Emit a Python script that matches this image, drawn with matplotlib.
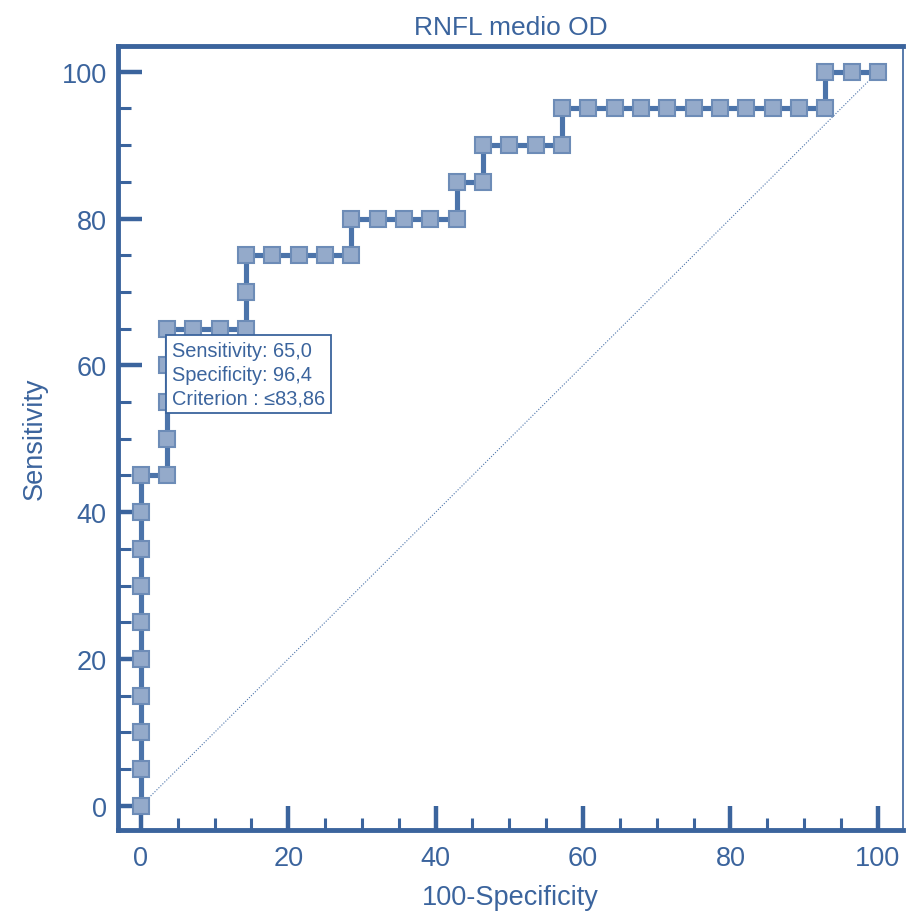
import numpy as np
import matplotlib.pyplot as plt
from matplotlib.ticker import MultipleLocator

# ROC points: 28 negatives, 20 positives
fpr_steps = [0]*10 + [1]*5 + [2, 3] + [4]*3 + [5, 6, 7] + [8]*2 + [9, 10, 11] + [12]*2 \
    + [13]*2 + [14, 15] + [16]*2 + list(range(17, 26)) + [26]*2 + [27, 28]
sens = [0, 5, 10, 15, 20, 25, 30, 35, 40, 45,
        45, 50, 55, 60, 65,
        65, 65,
        65, 70, 75,
        75, 75, 75,
        75, 80,
        80, 80, 80,
        80, 85,
        85, 90,
        90, 90,
        90, 95] + [95]*9 + [95, 100] + [100, 100]
n_neg = 28
x_vals = np.array(fpr_steps) / n_neg * 100
y_vals = np.array(sens)

box_text = "Sensitivity: 65,0\nSpecificity: 96,4\nCriterion : \u226483,86"

blue = "#3b649d"
line_col = "#4c74aa"
face_col = "#94aaca"
edge_col = "#6d8cb7"

plt.rcParams['font.family'] = ['Liberation Sans', 'DejaVu Sans']

fig = plt.figure(figsize=(9.06, 9.12), dpi=100)
ax = fig.add_axes([0.1302, 0.0888, 0.8664, 0.8596])

ax.plot([0, 100], [0, 100], color=line_col, lw=0.8, ls=(0, (1, 1.5)), zorder=1)
ax.plot(x_vals, y_vals, color=line_col, lw=3.7, zorder=2)
ax.plot(x_vals, y_vals, ls='none', marker='s', ms=12, mfc=face_col, mec=edge_col,
        mew=1.5, zorder=3)

ax.set_xlim(-3.1, 103.4)
ax.set_ylim(-3.3, 103.5)

ax.xaxis.set_major_locator(MultipleLocator(20))
ax.xaxis.set_minor_locator(MultipleLocator(5))
ax.yaxis.set_major_locator(MultipleLocator(20))
ax.yaxis.set_minor_locator(MultipleLocator(5))
ax.tick_params(which='major', direction='in', length=17, width=3.2, color=blue,
               labelcolor=blue, labelsize=19.5)
ax.tick_params(which='minor', direction='in', length=9, width=2.2, color=blue)
ax.tick_params(axis='x', which='major', pad=11)
ax.tick_params(axis='y', which='major', pad=8)

for side in ['left', 'bottom', 'top']:
    ax.spines[side].set_linewidth(3.5)
    ax.spines[side].set_color(blue)
ax.spines['right'].set_linewidth(1.2)
ax.spines['right'].set_color(blue)

ax.set_title("RNFL medio OD", color=blue, fontsize=19, pad=9)
ax.set_xlabel("100-Specificity", color=blue, fontsize=19.5, labelpad=9)
ax.set_ylabel("Sensitivity", color=blue, fontsize=19.5, labelpad=10)

ax.text(4.2, 63.3, box_text, color=blue, fontsize=14.4, va='top', ha='left',
        linespacing=1.3, zorder=5,
        bbox=dict(boxstyle='square,pad=0.3', fc='white', ec=blue, lw=1.3))

fig.savefig("out.png", dpi=100)
